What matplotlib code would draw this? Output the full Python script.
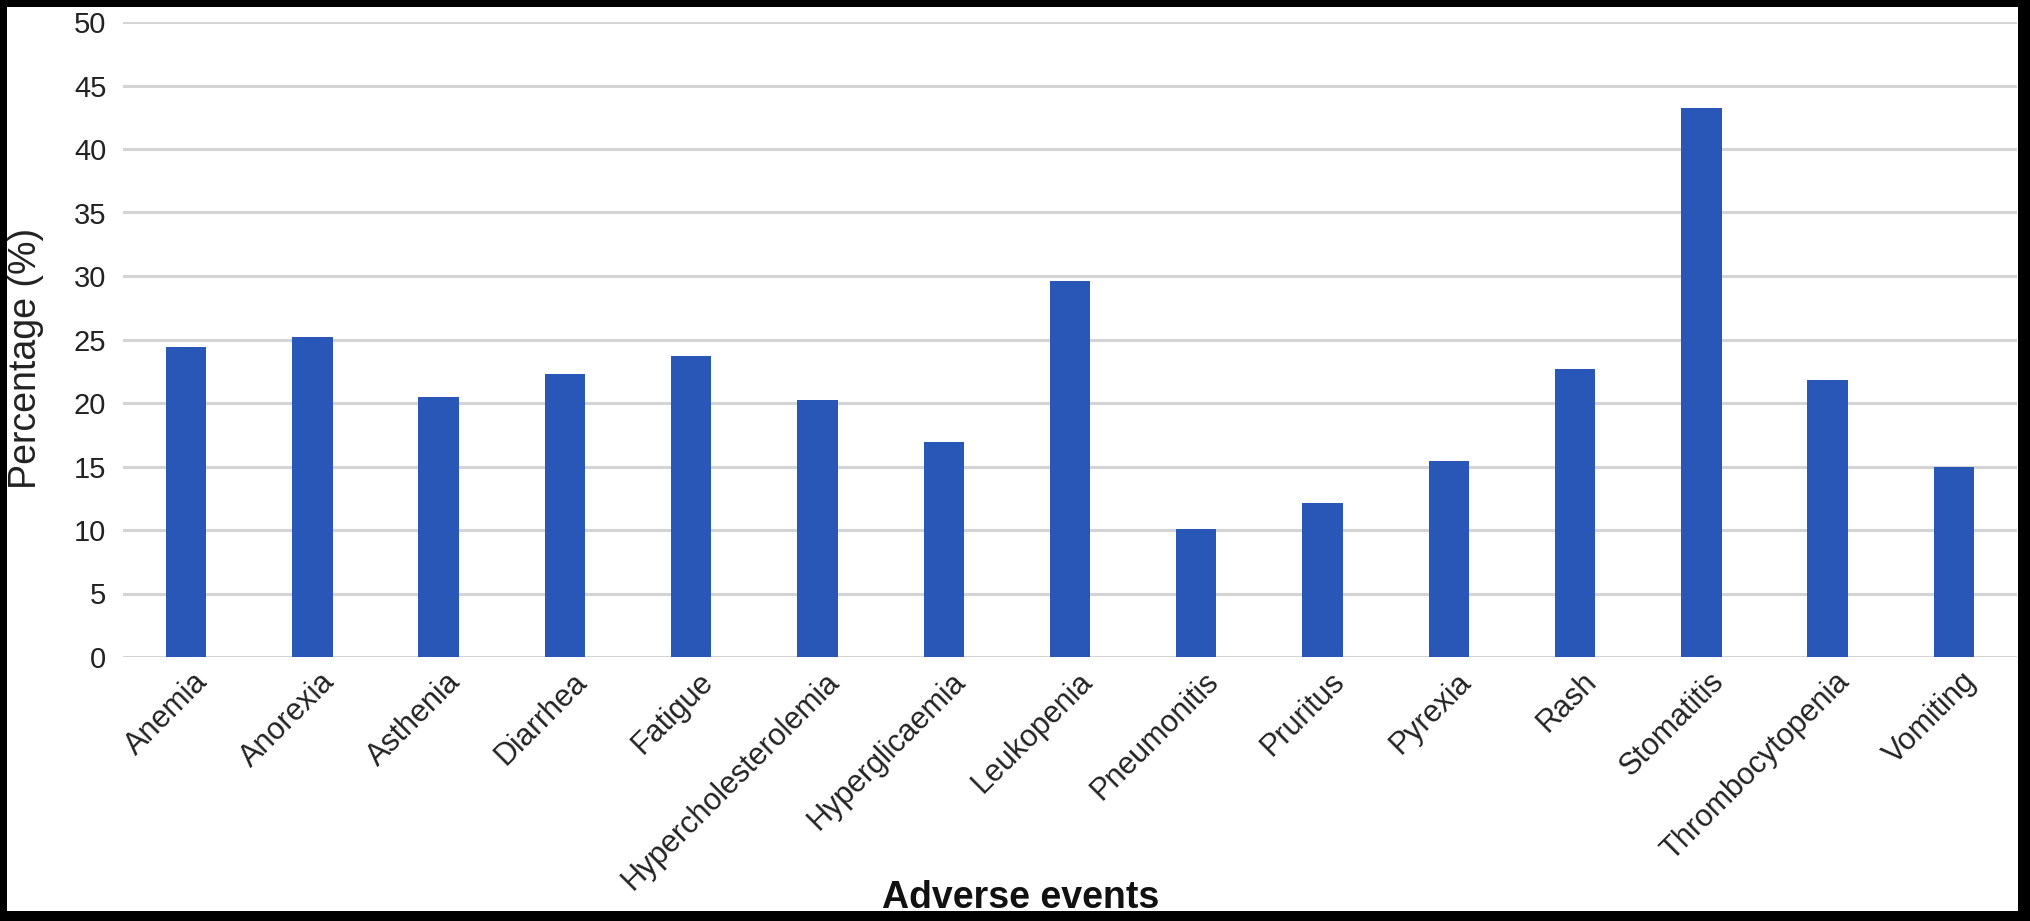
import numpy as np
import matplotlib
matplotlib.use("Agg")
import matplotlib.pyplot as plt
from matplotlib.patches import Rectangle
import matplotlib.transforms as mtransforms

plt.rcParams['font.family'] = ['Liberation Sans', 'DejaVu Sans']

events = ['Anemia', 'Anorexia', 'Asthenia', 'Diarrhea', 'Fatigue',
          'Hypercholesterolemia', 'Hyperglicaemia', 'Leukopenia', 'Pneumonitis',
          'Pruritus', 'Pyrexia', 'Rash', 'Stomatitis', 'Thrombocytopenia', 'Vomiting']
percent = [24.4, 25.2, 20.5, 22.3, 23.7, 20.2, 16.9, 29.6, 10.1,
           12.1, 15.4, 22.7, 43.2, 21.8, 15.0]
yticks = [0, 5, 10, 15, 20, 25, 30, 35, 40, 45, 50]

W, H = 2031, 921
fig = plt.figure(figsize=(W / 100, H / 100), dpi=100)
ax = fig.add_axes([123 / W, 1 - 657 / H, (2017 - 123) / W, (657 - 22) / H])

x = np.arange(len(events))
ax.bar(x, percent, width=0.32, color='#2857b8', zorder=3)

ax.set_xlim(-0.5, len(events) - 0.5)
ax.set_ylim(0, 50)
ax.set_yticks(yticks)
ax.set_yticklabels([str(t) for t in yticks], fontsize=21, color='#222222')
ax.yaxis.grid(True, color='#d4d4d4', linewidth=2.2, zorder=0)
ax.set_axisbelow(True)
ax.tick_params(axis='y', length=0, pad=12)
ax.tick_params(axis='x', length=0, pad=4)
for s in ax.spines.values():
    s.set_visible(False)

ax.set_xticks(x)
ax.set_xticklabels(events, rotation=45, ha='right', va='top',
                   rotation_mode='anchor', fontsize=22, color='#222222')
shift = mtransforms.ScaledTranslation(7 / 100, -4 / 100, fig.dpi_scale_trans)
for lbl in ax.get_xticklabels():
    lbl.set_transform(lbl.get_transform() + shift)

fig.text(26 / W, 1 - 358 / H, 'Percentage (%)', rotation=90, ha='center',
         va='center', fontsize=27, color='#222222')
fig.text(1021 / W, 1 - 898 / H, 'Adverse events', ha='center', va='center',
         fontsize=27, fontweight='bold', color='#111111')

# black frame around the picture
for r in [(0, 0, 1, 10 / H), (0, 1 - 7 / H, 1, 7 / H),
          (0, 0, 7 / W, 1), (1 - 13 / W, 0, 13 / W, 1)]:
    fig.patches.append(Rectangle((r[0], r[1]), r[2], r[3], transform=fig.transFigure,
                                 facecolor='black', edgecolor='none', zorder=10))

fig.savefig('out.png', dpi=100, facecolor='white')
